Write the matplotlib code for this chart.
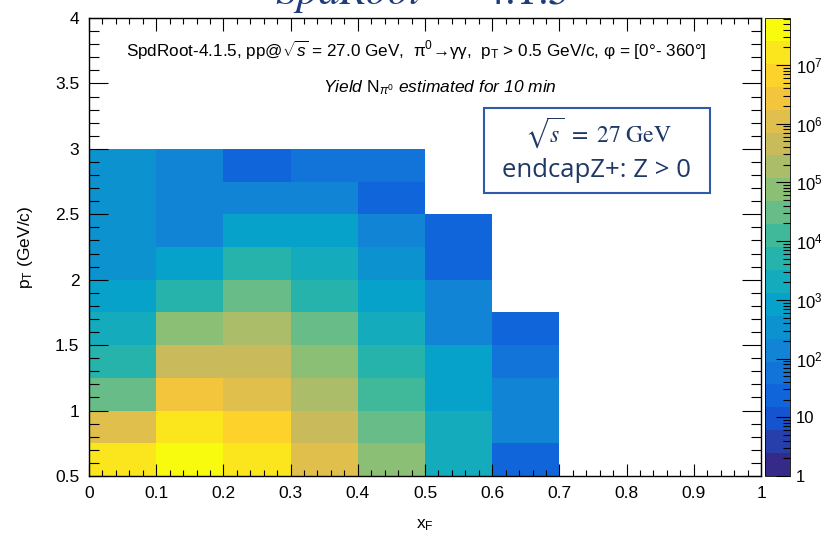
import numpy as np
import matplotlib
matplotlib.use("Agg")
import matplotlib.pyplot as plt
from matplotlib.colors import LinearSegmentedColormap, ListedColormap, LogNorm
from matplotlib.patches import Rectangle
from matplotlib.ticker import (MultipleLocator, LogLocator, FixedLocator,
                               FuncFormatter, NullFormatter)

plt.rcParams["font.family"] = ["Liberation Sans", "DejaVu Sans"]
plt.rcParams["mathtext.fontset"] = "custom"
plt.rcParams["mathtext.rm"] = "Liberation Sans"
plt.rcParams["mathtext.it"] = "Liberation Sans:italic"
plt.rcParams["mathtext.bf"] = "Liberation Sans:bold"

# bin edges
xf_edges = [0.0, 0.1, 0.2, 0.3, 0.4, 0.5, 0.6, 0.7]
pt_edges = [0.5, 0.75, 1.0, 1.25, 1.5, 1.75, 2.0, 2.25, 2.5, 2.75, 3.0]

# yield per cell, rows = pT bins (low -> high), cols = xF bins
nan = np.nan
yield_pt050 = [1.6e7, 4.0e7, 1.6e7, 1.1e6, 7.5e4, 2.1e3, 23]
yield_pt075 = [1.1e6, 1.6e7, 6.7e6, 4.5e5, 3.1e4, 2.1e3, 140]
yield_pt100 = [3.1e4, 2.7e6, 1.1e6, 1.8e5, 1.2e4, 840, 140]
yield_pt125 = [5.1e3, 4.5e5, 4.5e5, 7.5e4, 5.1e3, 840, 57]
yield_pt150 = [2.1e3, 7.5e4, 1.8e5, 3.1e4, 2.1e3, 140, 23]
yield_pt175 = [840, 5.1e3, 3.1e4, 5.1e3, 840, 140, nan]
yield_pt200 = [340, 840, 5.1e3, 2.1e3, 340, 23, nan]
yield_pt225 = [340, 140, 840, 840, 140, 23, nan]
yield_pt250 = [340, 140, 140, 140, 23, nan, nan]
yield_pt275 = [340, 140, 23, 57, 57, nan, nan]

z = np.array([yield_pt050, yield_pt075, yield_pt100, yield_pt125, yield_pt150,
              yield_pt175, yield_pt200, yield_pt225, yield_pt250, yield_pt275])
z = np.ma.masked_invalid(z)

cb_ticks = [1, 10, 1e2, 1e3, 1e4, 1e5, 1e6, 1e7]

# ROOT kBird palette, 20 contour levels
stops = [0.0, 0.125, 0.25, 0.375, 0.5, 0.625, 0.75, 0.875, 1.0]
red = [0.2082, 0.0592, 0.0780, 0.0232, 0.1802, 0.5301, 0.8186, 0.9956, 0.9764]
green = [0.1664, 0.3599, 0.5041, 0.6419, 0.7178, 0.7492, 0.7328, 0.7862, 0.9832]
blue = [0.5293, 0.8684, 0.8385, 0.7914, 0.6425, 0.4662, 0.3499, 0.1968, 0.0539]
bird = LinearSegmentedColormap.from_list(
    "bird", list(zip(stops, zip(red, green, blue))))
cmap = ListedColormap([bird(i / 19) for i in range(20)])
norm = LogNorm(vmin=1, vmax=6.3e7)

W, H = 827, 536
fig = plt.figure(figsize=(W / 100, H / 100), dpi=100)
ax = fig.add_axes([89 / W, 1 - 476 / H, 672 / W, 458 / H])
cax = fig.add_axes([765 / W, 1 - 476 / H, 25 / W, 458 / H])

mesh = ax.pcolormesh(xf_edges, pt_edges, z, cmap=cmap, norm=norm)
ax.set_xlim(0, 1)
ax.set_ylim(0.5, 4)

ax.xaxis.set_major_locator(MultipleLocator(0.1))
ax.xaxis.set_minor_locator(MultipleLocator(0.02))
ax.yaxis.set_major_locator(MultipleLocator(0.5))
ax.yaxis.set_minor_locator(MultipleLocator(0.1))
ax.xaxis.set_major_formatter(FuncFormatter(lambda v, p: "%g" % round(v, 2)))
ax.yaxis.set_major_formatter(FuncFormatter(lambda v, p: "%g" % round(v, 2)))
ax.tick_params(axis="both", which="both", direction="in", top=True, right=True,
               width=0.8, labelsize=12.5)
ax.tick_params(axis="x", which="major", length=9, pad=7)
ax.tick_params(axis="x", which="minor", length=4.5)
ax.tick_params(axis="y", which="major", length=14, pad=7)
ax.tick_params(axis="y", which="minor", length=7)
for s in ax.spines.values():
    s.set_linewidth(1.0)

ax.set_xlabel(r"x$_{\mathrm{F}}$", fontsize=12.5, labelpad=12)
ax.set_ylabel(r"p$_{\mathrm{T}}$ (GeV/c)", fontsize=12.5, labelpad=14)

cb = fig.colorbar(mesh, cax=cax)
cb.outline.set_linewidth(0.6)
cax.yaxis.set_major_locator(FixedLocator(cb_ticks))
cax.yaxis.set_minor_locator(LogLocator(base=10, subs=np.arange(2, 10), numticks=100))
cax.yaxis.set_minor_formatter(NullFormatter())


def cb_fmt(v, p):
    e = int(round(np.log10(v)))
    if e == 0:
        return "1"
    if e == 1:
        return "10"
    return "$10^{%d}$" % e


cax.yaxis.set_major_formatter(FuncFormatter(cb_fmt))
cax.tick_params(which="both", direction="in", width=0.8, labelsize=12)
cax.tick_params(which="major", length=10, pad=4)
cax.tick_params(which="minor", length=5)

# header texts inside the frame
ax.text(0.487, 0.930,
        r"SpdRoot-4.1.5, pp@$\sqrt{s}$ = 27.0 GeV,  π$^{0}$→γγ,  "
        r"p$_{\mathrm{T}}$ > 0.5 GeV/c, φ = [0°- 360°]",
        transform=ax.transAxes, ha="center", va="center", fontsize=12.3)
ax.text(0.522, 0.847, r"Yield $\mathrm{N}_{\pi^{0}}$ estimated for 10 min",
        transform=ax.transAxes, ha="center", va="center", fontsize=12.5,
        style="italic")

# annotation box
fig.patches.append(Rectangle((484 / W, 1 - 193 / H), 226 / W, 85 / H,
                             transform=fig.transFigure, facecolor="white",
                             edgecolor="#2e5aa8", linewidth=1.5, zorder=5))
fig.text(598 / W, 1 - 133 / H, r"$\sqrt{s}\ =\ 27\ \mathrm{GeV}$",
         ha="center", va="center", fontsize=17, color="#1f3864",
         math_fontfamily="stix", zorder=6)
fig.text(597 / W, 1 - 170 / H, "endcapZ+: Z > 0", ha="center", va="center",
         fontsize=18.5, color="#1f3864", family="Open Sans", zorder=6)

# slide title, clipped at the top edge
fig.text(422 / W, 1 - 4 / H, r"$SpdRoot\ -\ 4.1.5$", ha="center",
         va="baseline", fontsize=31, color="#1f3d7a", math_fontfamily="stix")

fig.savefig("out.png", dpi=100)
